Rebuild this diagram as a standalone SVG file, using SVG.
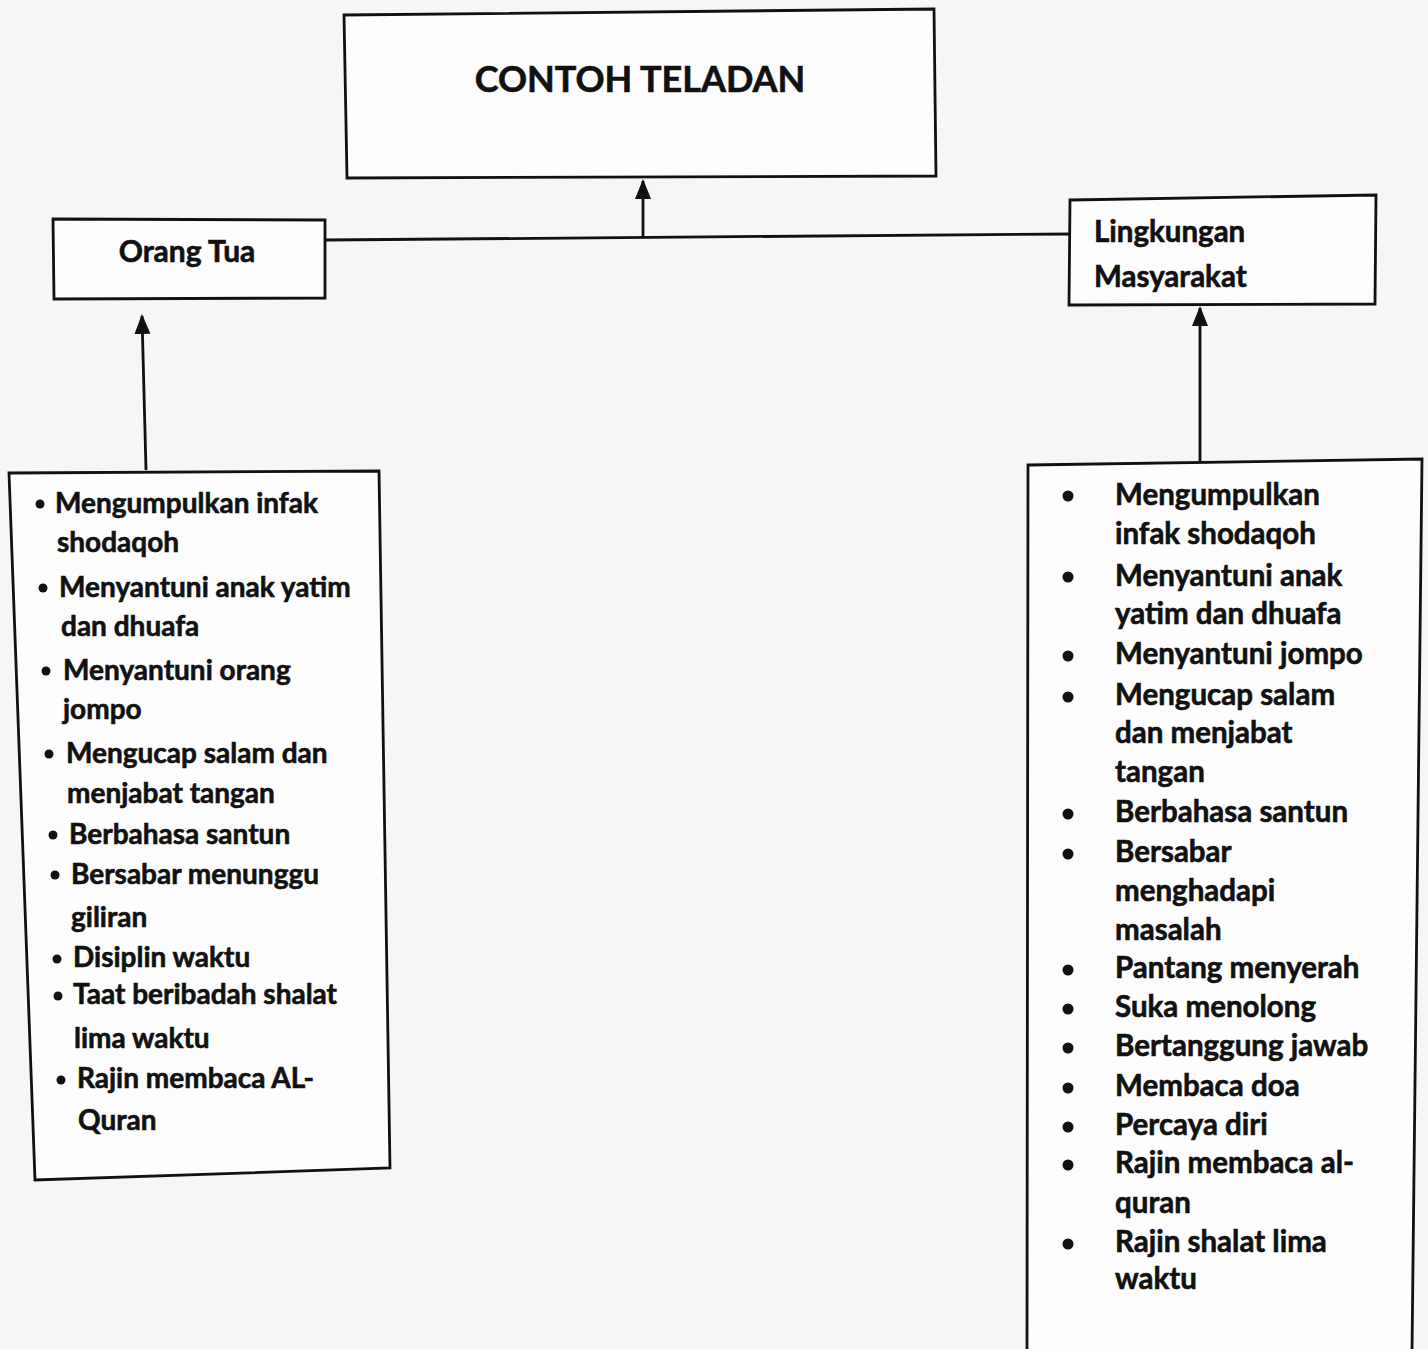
<svg xmlns="http://www.w3.org/2000/svg" width="1428" height="1349" viewBox="0 0 1428 1349">
<style>
.box{fill:#fdfdfd;stroke:#111;stroke-width:2.8}
.ln{fill:none;stroke:#111;stroke-width:2.8}
text{font-family:Lato,"Open Sans","Liberation Sans",sans-serif;font-weight:bold;fill:#111;stroke:#111;stroke-width:0.6}
.t{font-size:36px}
.h{font-size:30px}
.h2{font-size:29.5px}
.l{font-size:28px}
.r{font-size:29.5px}
.b{fill:#111}
</style>
<defs>
<marker id="a" viewBox="0 0 10 10" refX="9" refY="5" markerWidth="20" markerHeight="20" markerUnits="userSpaceOnUse" orient="auto">
<path d="M0,1 L10,5 L0,9 z" fill="#111"/>
</marker>
</defs>
<rect width="1428" height="1349" fill="#f6f6f5"/>
<g id="connectors">
<path class="ln" d="M325,240 L1070,234"/>
<path class="ln" d="M643,238 L643,181" marker-end="url(#a)"/>
<path class="ln" d="M146,470 L142,316" marker-end="url(#a)"/>
<path class="ln" d="M1200,461 L1200,308" marker-end="url(#a)"/>
</g>
<g id="contoh-teladan">
<polygon class="box" points="344,15 934,9 936,176 347,178"/>
<text class="t" x="640" y="92" text-anchor="middle">CONTOH TELADAN</text>
</g>
<g id="orang-tua">
<polygon class="box" points="53,219 325,220 325,298 54,299"/>
<text class="h" x="187" y="262" text-anchor="middle">Orang Tua</text>
</g>
<g id="lingkungan-masyarakat">
<polygon class="box" points="1070,200 1376,195 1375,304 1069,305"/>
<text class="h2" x="1094" y="242">Lingkungan</text>
<text class="h2" x="1094" y="287">Masyarakat</text>
</g>
<g id="list-orang-tua">
<polygon class="box" points="9,473 379,471 390,1168 35,1180"/>
<circle class="b" cx="40" cy="504" r="4.5"/><text class="l" x="55" y="513">Mengumpulkan infak</text>
<text class="l" x="57" y="552">shodaqoh</text>
<circle class="b" cx="43" cy="588" r="4.5"/><text class="l" x="59" y="597">Menyantuni anak yatim</text>
<text class="l" x="61" y="636">dan dhuafa</text>
<circle class="b" cx="46" cy="671" r="4.5"/><text class="l" x="63" y="680">Menyantuni orang</text>
<text class="l" x="63" y="719">jompo</text>
<circle class="b" cx="49" cy="754" r="4.5"/><text class="l" x="66" y="763">Mengucap salam dan</text>
<text class="l" x="67" y="803">menjabat tangan</text>
<circle class="b" cx="53" cy="835" r="4.5"/><text class="l" x="69" y="844">Berbahasa santun</text>
<circle class="b" cx="55" cy="875" r="4.5"/><text class="l" x="71" y="884">Bersabar menunggu</text>
<text class="l" x="71" y="927">giliran</text>
<circle class="b" cx="57" cy="959" r="4.5"/><text class="l" x="73" y="967">Disiplin waktu</text>
<circle class="b" cx="58" cy="996" r="4.5"/><text class="l" x="73" y="1004">Taat beribadah shalat</text>
<text class="l" x="74" y="1048">lima waktu</text>
<circle class="b" cx="61" cy="1080" r="4.5"/><text class="l" x="77" y="1088">Rajin membaca AL-</text>
<text class="l" x="78" y="1130">Quran</text>
</g>
<g id="list-lingkungan">
<polygon class="box" points="1028,465 1422,459 1412,1352 1027,1352"/>
<circle class="b" cx="1068" cy="496" r="5.5"/><text class="r" x="1115" y="505">Mengumpulkan</text>
<text class="r" x="1115" y="544">infak shodaqoh</text>
<circle class="b" cx="1068" cy="577" r="5.5"/><text class="r" x="1115" y="586">Menyantuni anak</text>
<text class="r" x="1115" y="624">yatim dan dhuafa</text>
<circle class="b" cx="1068" cy="656" r="5.5"/><text class="r" x="1115" y="664">Menyantuni jompo</text>
<circle class="b" cx="1068" cy="697" r="5.5"/><text class="r" x="1115" y="705">Mengucap salam</text>
<text class="r" x="1115" y="743">dan menjabat</text>
<text class="r" x="1115" y="782">tangan</text>
<circle class="b" cx="1068" cy="814" r="5.5"/><text class="r" x="1115" y="822">Berbahasa santun</text>
<circle class="b" cx="1068" cy="854" r="5.5"/><text class="r" x="1115" y="862">Bersabar</text>
<text class="r" x="1115" y="901">menghadapi</text>
<text class="r" x="1115" y="940">masalah</text>
<circle class="b" cx="1068" cy="970" r="5.5"/><text class="r" x="1115" y="978">Pantang menyerah</text>
<circle class="b" cx="1068" cy="1009" r="5.5"/><text class="r" x="1115" y="1017">Suka menolong</text>
<circle class="b" cx="1068" cy="1048" r="5.5"/><text class="r" x="1115" y="1056">Bertanggung jawab</text>
<circle class="b" cx="1068" cy="1088" r="5.5"/><text class="r" x="1115" y="1096">Membaca doa</text>
<circle class="b" cx="1068" cy="1127" r="5.5"/><text class="r" x="1115" y="1135">Percaya diri</text>
<circle class="b" cx="1068" cy="1165" r="5.5"/><text class="r" x="1115" y="1173">Rajin membaca al-</text>
<text class="r" x="1115" y="1213">quran</text>
<circle class="b" cx="1068" cy="1244" r="5.5"/><text class="r" x="1115" y="1252">Rajin shalat lima</text>
<text class="r" x="1115" y="1289">waktu</text>
</g>
</svg>
